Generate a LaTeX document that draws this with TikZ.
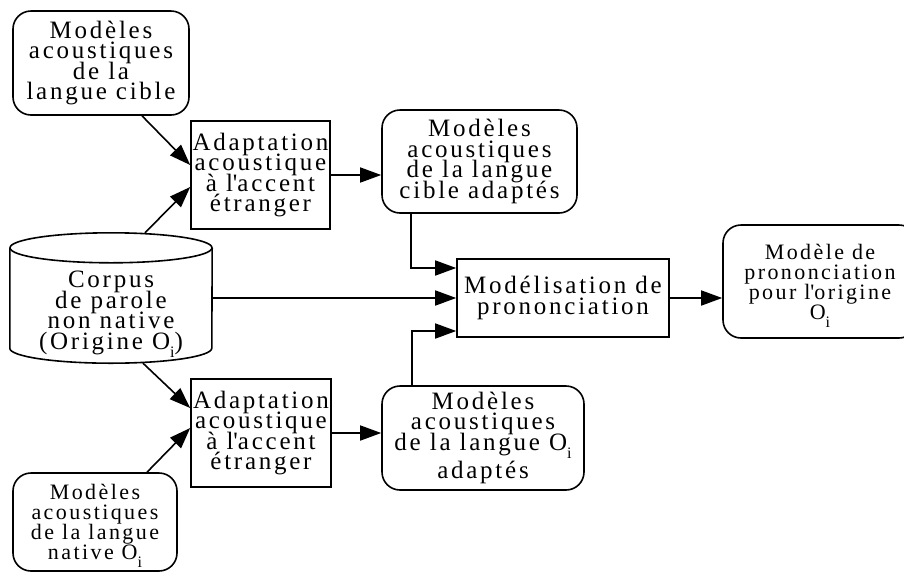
\documentclass[tikz,border=0pt]{standalone}
\usepackage{fontspec}
\setmainfont{Liberation Serif}
\usetikzlibrary{arrows.meta, positioning, calc}
\lineskiplimit=-30pt
\newcommand{\Oi}{O\smash{\raisebox{-8pt}{\fontsize{16}{16}\selectfont i}}}
\tikzset{
  txt/.style={align=center, inner sep=0pt, font=\fontsize{25}{20.5}\selectfont\addfontfeature{LetterSpace=11}},
  smalltxt/.style={font=\fontsize{22}{20}\selectfont\addfontfeature{LetterSpace=11}},
  procbox/.style={txt, draw, line width=1.6pt},
  modelbox/.style={txt, draw, line width=1.6pt, rounded corners=18pt},
  arr/.style={line width=1.6pt, -{Triangle[length=21pt, width=15pt]}}
}
\begin{document}
\begin{tikzpicture}[x=1pt, y=-1pt]
      \clip (0,0) rectangle (904,574);

      % Acoustic models
      \node[modelbox, minimum width=176pt, minimum height=104pt] (cible) at (101,63) {Modèles\\acoustiques\\de la\\langue cible};
      \node[modelbox, smalltxt, minimum width=164pt, minimum height=98pt] (natl) at (95,522) {Modèles\\acoustiques\\de la langue\\native \Oi};

      % Speech corpus (cylinder)
      \node[inner sep=0pt, minimum width=202pt, minimum height=130pt] (corpus) at (111,298) {};
      \draw[line width=1.6pt] ([yshift=-15pt]corpus.north west) -- ([yshift=15pt]corpus.south west)
            arc[start angle=180, end angle=360, x radius=101pt, y radius=15pt] -- ([yshift=-15pt]corpus.north east);
      \draw[line width=1.6pt] ([yshift=-15pt]corpus.north) ellipse [x radius=101pt, y radius=15pt];
      \node[txt] (corpuslbl) at (111,313) {Corpus\\de parole\\non native\\(Origine \Oi)};

      % Adaptation steps
      \node[procbox, minimum width=139pt, minimum height=108pt] (adapt1) at (260.5,175) {Adaptation\\acoustique\\à l\textquotesingle accent\\étranger};
      \node[procbox, minimum width=140pt, minimum height=108pt] (adapt2) at (261,433) {Adaptation\\acoustique\\à l\textquotesingle accent\\étranger};

      % Adapted models
      \node[modelbox, minimum width=195pt, minimum height=103pt] (cibad) at (479.5,161.5) {Modèles\\acoustiques\\de la langue\\cible adaptés};
      \node[modelbox, minimum width=202pt, minimum height=104pt] (natad) at (483,438) {Modèles\\acoustiques\\de la langue \Oi\\[8pt]adaptés};

      % Pronunciation modelling
      \node[procbox, minimum width=212pt, minimum height=78pt] (model) at (563,298) {Modélisation de\\prononciation};
      \node[modelbox, smalltxt, minimum width=194pt, minimum height=113pt] (out) at (820,281.5) {Modèle de\\prononciation\\pour l\textquotesingle origine\\\Oi};

      % Connectors
      \draw[arr] ([xshift=41pt]cible.south) -- ([yshift=10pt]adapt1.west);
      \draw[arr] ([xshift=34pt]corpus.north) -- ([yshift=-12pt]adapt1.west);
      \draw[arr] ([xshift=32pt]corpus.south) -- ([yshift=25pt]adapt2.west);
      \draw[arr] ([xshift=52pt]natl.north) -- ([yshift=5pt]adapt2.west);
      \draw[arr] (adapt1.east) -- (adapt1.east -| cibad.west);
      \draw[arr] (adapt2.east) -- (adapt2.east -| natad.west);
      \draw[arr] ([xshift=30pt]cibad.south west) |- ([yshift=30pt]model.west);
      \draw[arr] (corpus.east) -- (model.west);
      \draw[arr] ([xshift=31pt]natad.north west) |- ([yshift=-33pt]model.west);
      \draw[arr] (model.east) -- (model.east -| out.west);
    \end{tikzpicture}
\end{document}
